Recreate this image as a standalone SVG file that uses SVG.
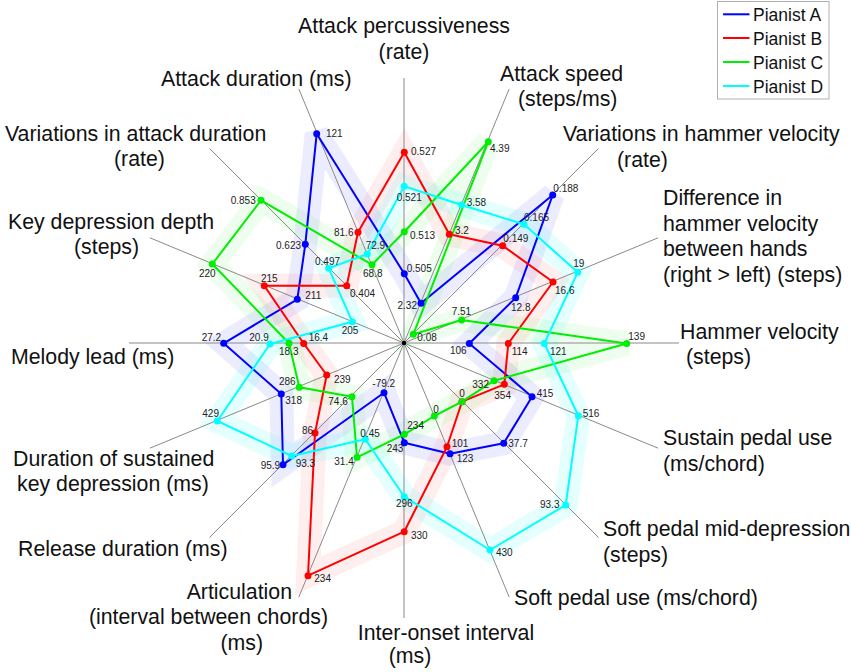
<svg xmlns="http://www.w3.org/2000/svg" width="851" height="672" viewBox="0 0 851 672">
<style>
.bg{fill:#fff}
.axis{stroke:#8a8a8a;stroke-width:1;fill:none}
.band{fill:none;stroke-width:24;stroke-linejoin:miter;stroke-miterlimit:3}
.ln{fill:none;stroke-width:2;stroke-linejoin:round}
.lbl{font-family:"Liberation Sans",Arial,sans-serif;font-size:21.3px;fill:#111}
.val{font-family:"Liberation Sans",Arial,sans-serif;font-size:10px;fill:#222}
.leg{font-family:"Liberation Sans",Arial,sans-serif;font-size:17.5px;fill:#111}
.A{stroke:#0000ff}.B{stroke:#ff0000}.C{stroke:#00ee00}.D{stroke:#00ffff}
.fA{fill:#0000ff}.fB{fill:#ff0000}.fC{fill:#00ee00}.fD{fill:#00ffff}
</style>
<rect class="bg" x="0" y="0" width="851" height="672"/>
<g id="bands">
<polygon class="band" stroke="#0000ff" stroke-opacity="0.075" points="404.3,273.7 421,303.3 552.7,195 515.7,297.7 469.3,343.5 532,396.7 503.7,443.3 450,453.7 404.3,442.7 384,392.7 283,464.7 281.3,394 223.7,343.3 297.3,299.3 305.3,244.3 316.7,133.7"/>
<polygon class="band" stroke="#ff0000" stroke-opacity="0.065" points="404.3,152.3 449.3,234.3 502.7,245.7 553,282 508.3,343.5 504.3,384.3 462,401.7 447,446.7 404.2,531.7 308,575.7 315,433 326.7,375 303.7,343.5 264.3,285.7 346.7,285.7 358,232.3"/>
<polygon class="band" stroke="#00ee00" stroke-opacity="0.065" points="404.3,231.7 488.3,141.7 413.3,334.3 461.7,320 626.7,343.5 494,380.7 462,401.7 434.3,416 404.3,434.3 357,457.3 352,396.7 299.3,387.3 289,343.3 212.3,264 261,200.3 372,264.7"/>
<polygon class="band" stroke="#00ffff" stroke-opacity="0.1" points="404.3,186.3 461.7,205 524,224.3 577.7,272.3 544.3,343.5 578.3,415.7 565.7,505 490,550 404.3,496.7 365.3,439.3 291.7,456 217.3,421 270,344 352.3,321.7 328.7,268.3 367.3,254"/>
</g>
<g id="axes">
<line class="axis" x1="404" y1="343" x2="404" y2="78"/>
<line class="axis" x1="404" y1="343" x2="509.2" y2="88.9"/>
<line class="axis" x1="404" y1="343" x2="598.5" y2="148.5"/>
<line class="axis" x1="404" y1="343" x2="658.1" y2="237.8"/>
<line class="axis" x1="404" y1="343" x2="679" y2="343"/>
<line class="axis" x1="404" y1="343" x2="658.1" y2="448.2"/>
<line class="axis" x1="404" y1="343" x2="598.5" y2="537.5"/>
<line class="axis" x1="404" y1="343" x2="509.2" y2="597.1"/>
<line class="axis" x1="404" y1="343" x2="404" y2="618"/>
<line class="axis" x1="404" y1="343" x2="298.8" y2="597.1"/>
<line class="axis" x1="404" y1="343" x2="209.5" y2="537.5"/>
<line class="axis" x1="404" y1="343" x2="149.9" y2="448.2"/>
<line class="axis" x1="404" y1="343" x2="129" y2="343"/>
<line class="axis" x1="404" y1="343" x2="149.9" y2="237.8"/>
<line class="axis" x1="404" y1="343" x2="209.5" y2="148.5"/>
<line class="axis" x1="404" y1="343" x2="298.8" y2="88.9"/>
<circle cx="404" cy="343" r="2.2" fill="#000"/>
</g>
<g id="axis-labels" class="lbl">
<text x="404" y="33" text-anchor="middle">Attack percussiveness</text>
<text x="404" y="58.5" text-anchor="middle">(rate)</text>
<text x="500" y="81">Attack speed</text>
<text x="518" y="106">(steps/ms)</text>
<text x="563" y="141">Variations in hammer velocity</text>
<text x="617" y="166.5">(rate)</text>
<text x="663" y="205">Difference in</text>
<text x="663" y="230.5">hammer velocity</text>
<text x="663" y="256">between hands</text>
<text x="663" y="281.5">(right &gt; left) (steps)</text>
<text x="680" y="338.5">Hammer velocity</text>
<text x="686" y="363.5">(steps)</text>
<text x="663" y="445">Sustain pedal use</text>
<text x="663" y="471">(ms/chord)</text>
<text x="603" y="536">Soft pedal mid-depression</text>
<text x="603" y="561.5">(steps)</text>
<text x="514" y="605">Soft pedal use (ms/chord)</text>
<text x="446" y="640" text-anchor="middle">Inter-onset interval</text>
<text x="410" y="663" text-anchor="middle">(ms)</text>
<text x="292" y="599" text-anchor="end">Articulation</text>
<text x="328" y="624" text-anchor="end">(interval between chords)</text>
<text x="263" y="650" text-anchor="end">(ms)</text>
<text x="18" y="556">Release duration (ms)</text>
<text x="13" y="466">Duration of sustained</text>
<text x="17" y="491">key depression (ms)</text>
<text x="11" y="364">Melody lead (ms)</text>
<text x="8" y="229">Key depression depth</text>
<text x="74" y="254">(steps)</text>
<text x="5" y="141">Variations in attack duration</text>
<text x="114" y="166">(rate)</text>
<text x="161" y="86">Attack duration (ms)</text>
</g>
<g id="connectors">
<polygon id="pianist-a-line" class="ln A" points="404.3,273.7 421,303.3 552.7,195 515.7,297.7 469.3,343.5 532,396.7 503.7,443.3 450,453.7 404.3,442.7 384,392.7 283,464.7 281.3,394 223.7,343.3 297.3,299.3 305.3,244.3 316.7,133.7"/>
<polygon id="pianist-b-line" class="ln B" points="404.3,152.3 449.3,234.3 502.7,245.7 553,282 508.3,343.5 504.3,384.3 462,401.7 447,446.7 404.2,531.7 308,575.7 315,433 326.7,375 303.7,343.5 264.3,285.7 346.7,285.7 358,232.3"/>
<polygon id="pianist-c-line" class="ln C" points="404.3,231.7 488.3,141.7 413.3,334.3 461.7,320 626.7,343.5 494,380.7 462,401.7 434.3,416 404.3,434.3 357,457.3 352,396.7 299.3,387.3 289,343.3 212.3,264 261,200.3 372,264.7"/>
<polygon id="pianist-d-line" class="ln D" points="404.3,186.3 461.7,205 524,224.3 577.7,272.3 544.3,343.5 578.3,415.7 565.7,505 490,550 404.3,496.7 365.3,439.3 291.7,456 217.3,421 270,344 352.3,321.7 328.7,268.3 367.3,254"/>
</g>
<g id="pianist-a" class="fA">
<circle cx="404.3" cy="273.7" r="3.5"/><circle cx="421" cy="303.3" r="3.5"/><circle cx="552.7" cy="195" r="3.5"/><circle cx="515.7" cy="297.7" r="3.5"/><circle cx="469.3" cy="343.5" r="3.5"/><circle cx="532" cy="396.7" r="3.5"/><circle cx="503.7" cy="443.3" r="3.5"/><circle cx="450" cy="453.7" r="3.5"/><circle cx="404.3" cy="442.7" r="3.5"/><circle cx="384" cy="392.7" r="3.5"/><circle cx="283" cy="464.7" r="3.5"/><circle cx="281.3" cy="394" r="3.5"/><circle cx="223.7" cy="343.3" r="3.5"/><circle cx="297.3" cy="299.3" r="3.5"/><circle cx="305.3" cy="244.3" r="3.5"/><circle cx="316.7" cy="133.7" r="3.5"/>
</g>
<g id="pianist-b" class="fB">
<circle cx="404.3" cy="152.3" r="3.5"/><circle cx="449.3" cy="234.3" r="3.5"/><circle cx="502.7" cy="245.7" r="3.5"/><circle cx="553" cy="282" r="3.5"/><circle cx="508.3" cy="343.5" r="3.5"/><circle cx="504.3" cy="384.3" r="3.5"/><circle cx="462" cy="401.7" r="3.5"/><circle cx="447" cy="446.7" r="3.5"/><circle cx="404.2" cy="531.7" r="3.5"/><circle cx="308" cy="575.7" r="3.5"/><circle cx="315" cy="433" r="3.5"/><circle cx="326.7" cy="375" r="3.5"/><circle cx="303.7" cy="343.5" r="3.5"/><circle cx="264.3" cy="285.7" r="3.5"/><circle cx="346.7" cy="285.7" r="3.5"/><circle cx="358" cy="232.3" r="3.5"/>
</g>
<g id="pianist-c" class="fC">
<circle cx="404.3" cy="231.7" r="3.5"/><circle cx="488.3" cy="141.7" r="3.5"/><circle cx="413.3" cy="334.3" r="3.5"/><circle cx="461.7" cy="320" r="3.5"/><circle cx="626.7" cy="343.5" r="3.5"/><circle cx="494" cy="380.7" r="3.5"/><circle cx="462" cy="401.7" r="3.5"/><circle cx="434.3" cy="416" r="3.5"/><circle cx="404.3" cy="434.3" r="3.5"/><circle cx="357" cy="457.3" r="3.5"/><circle cx="352" cy="396.7" r="3.5"/><circle cx="299.3" cy="387.3" r="3.5"/><circle cx="289" cy="343.3" r="3.5"/><circle cx="212.3" cy="264" r="3.5"/><circle cx="261" cy="200.3" r="3.5"/><circle cx="372" cy="264.7" r="3.5"/>
</g>
<g id="pianist-d" class="fD">
<circle cx="404.3" cy="186.3" r="3.5"/><circle cx="461.7" cy="205" r="3.5"/><circle cx="524" cy="224.3" r="3.5"/><circle cx="577.7" cy="272.3" r="3.5"/><circle cx="544.3" cy="343.5" r="3.5"/><circle cx="578.3" cy="415.7" r="3.5"/><circle cx="565.7" cy="505" r="3.5"/><circle cx="490" cy="550" r="3.5"/><circle cx="404.3" cy="496.7" r="3.5"/><circle cx="365.3" cy="439.3" r="3.5"/><circle cx="291.7" cy="456" r="3.5"/><circle cx="217.3" cy="421" r="3.5"/><circle cx="270" cy="344" r="3.5"/><circle cx="352.3" cy="321.7" r="3.5"/><circle cx="328.7" cy="268.3" r="3.5"/><circle cx="367.3" cy="254" r="3.5"/>
</g>
<g id="value-labels" class="val">
<text x="406.7" y="271.7">0.505</text>
<text x="397.5" y="309">2.32</text>
<text x="553.3" y="191.7">0.188</text>
<text x="511" y="310.7">12.8</text>
<text x="450" y="354">106</text>
<text x="536.7" y="397">415</text>
<text x="508.3" y="447.3">37.7</text>
<text x="456.7" y="462.3">123</text>
<text x="386.7" y="452">243</text>
<text x="372.3" y="387.3">-79.2</text>
<text x="260.7" y="469.3">95.9</text>
<text x="285.3" y="404">318</text>
<text x="201.7" y="340.7">27.2</text>
<text x="305.3" y="299">211</text>
<text x="276" y="248.7">0.623</text>
<text x="326" y="137">121</text>
<text x="411" y="155">0.527</text>
<text x="455" y="234">3.2</text>
<text x="503.3" y="241.7">0.149</text>
<text x="555" y="294">16.6</text>
<text x="511.7" y="355">114</text>
<text x="494.3" y="399">354</text>
<text x="451.7" y="447.3">101</text>
<text x="411" y="539.3">330</text>
<text x="314.3" y="582.3">234</text>
<text x="302" y="434.3">86</text>
<text x="334" y="383.3">239</text>
<text x="308.7" y="340.7">16.4</text>
<text x="261" y="282">215</text>
<text x="350" y="296.7">0.404</text>
<text x="334" y="236">81.6</text>
<text x="410" y="239.3">0.513</text>
<text x="490" y="151.7">4.39</text>
<text x="417.3" y="340.7">0.08</text>
<text x="451.7" y="315">7.51</text>
<text x="628.3" y="340">139</text>
<text x="472.3" y="387.7">332</text>
<text x="459.3" y="396.7">0</text>
<text x="433.3" y="412.7">0</text>
<text x="407.3" y="429.3">234</text>
<text x="334.3" y="465">31.4</text>
<text x="328.3" y="405.3">74.6</text>
<text x="279" y="385.3">286</text>
<text x="279" y="355">18.3</text>
<text x="199" y="276.7">220</text>
<text x="230.7" y="204">0.853</text>
<text x="363" y="277">68.8</text>
<text x="396.7" y="200.5">0.521</text>
<text x="466.7" y="206">3.58</text>
<text x="524" y="220.7">0.165</text>
<text x="573.3" y="266.7">19</text>
<text x="550" y="355">121</text>
<text x="582.7" y="417.3">516</text>
<text x="540" y="507.7">93.3</text>
<text x="496" y="556">430</text>
<text x="396" y="506.7">296</text>
<text x="360.3" y="436.7">0.45</text>
<text x="295.7" y="466.7">93.3</text>
<text x="202.3" y="416.7">429</text>
<text x="249.3" y="340.7">20.9</text>
<text x="341.7" y="334">205</text>
<text x="315" y="265">0.497</text>
<text x="365.7" y="249">72.9</text>
</g>
<g id="legend">
<rect x="717.5" y="1.5" width="111.5" height="97.5" fill="#fff" stroke="#b0b0b0" stroke-width="1"/>
<line class="A" x1="723" y1="14.3" x2="749.5" y2="14.3" stroke-width="2"/>
<line class="B" x1="723" y1="38" x2="749.5" y2="38" stroke-width="2"/>
<line class="C" x1="723" y1="62" x2="749.5" y2="62" stroke-width="2"/>
<line class="D" x1="723" y1="86" x2="749.5" y2="86" stroke-width="2"/>
<text class="leg" x="753" y="20.5">Pianist A</text>
<text class="leg" x="753" y="44.5">Pianist B</text>
<text class="leg" x="753" y="68.5">Pianist C</text>
<text class="leg" x="753" y="92.5">Pianist D</text>
</g>
</svg>
